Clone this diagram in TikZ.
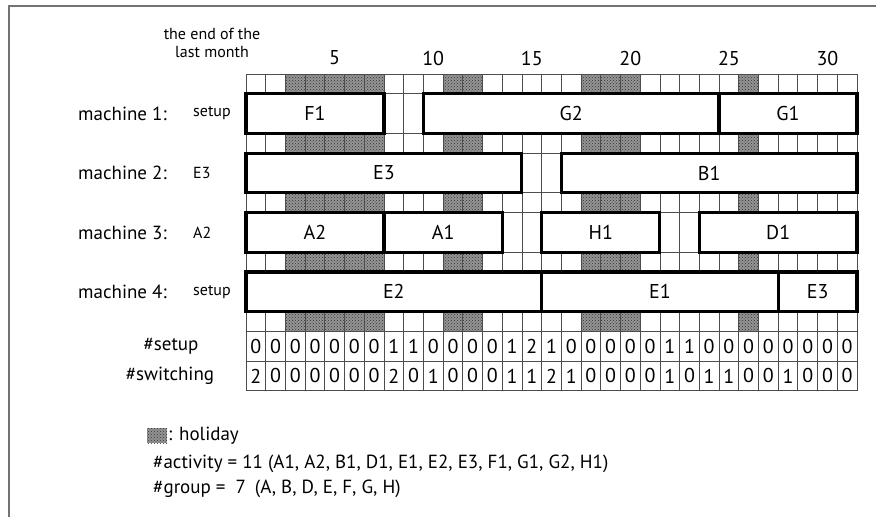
\documentclass[tikz,border=0pt]{standalone}
\usepackage{fontspec}
\setmainfont{PT Sans}
\usetikzlibrary{patterns}
\begin{document}
\begin{tikzpicture}[x=1pt,y=-1pt,
  gridline/.style={draw=black!70,line width=0.8pt},
  hol/.style={fill=black!42,postaction={pattern=crosshatch dots,pattern color=black!80}},
  bar/.style={draw=black,line width=3.1pt,fill=white,inner sep=0pt,font=\fontsize{20}{23}\selectfont},
  lbl/.style={inner sep=0pt,font=\fontsize{19}{22}\selectfont},
  daylbl/.style={inner sep=0pt,font=\fontsize{20}{23}\selectfont},
  smalllbl/.style={inner sep=0pt,font=\fontsize{16}{19}\selectfont},
  numcell/.style={inner sep=0pt,font=\fontsize{20}{23}\selectfont},
  legend/.style={inner sep=0pt,anchor=west,font=\fontsize{19}{22}\selectfont}]
\useasboundingbox (0,0) rectangle (876,517);
\def\xo{246}\def\yo{74}\def\cellw{19.71}\def\cellh{19.8}
% frame
\draw[draw=black!55,line width=2pt] (8.5,517) -- (8.5,5.5) -- (876,5.5);
% holidays
\foreach \c in {2,3,4,5,6,10,11,17,18,19,25}{
  \foreach \r in {0,3,6,9,12}{
    \path[hol] ({\xo+\c*\cellw},{\yo+\r*\cellh}) rectangle ({\xo+(\c+1)*\cellw},{\yo+(\r+1)*\cellh});
  }}
% grid
\foreach \r in {0,1,3,4,6,7,9,10,12,13,14.5,16}
  \draw[gridline] (\xo,{\yo+\r*\cellh}) -- ({\xo+31*\cellw},{\yo+\r*\cellh});
\foreach \c in {0,...,31}
  \draw[gridline] ({\xo+\c*\cellw},\yo) -- ({\xo+\c*\cellw},{\yo+16*\cellh});
% bars
\newcommand\mybar[5]{\node[bar,minimum width={((#4-#3)*\cellw)*1pt},minimum height={(2*\cellh)*1pt}] (#1) at ({\xo+(#3+#4)/2*\cellw},{\yo+(#2+1)*\cellh}) {#5};}
\mybar{mAF}{1}{0}{7}{F1}
\mybar{mAGb}{1}{9}{24}{G2}
\mybar{mAGa}{1}{24}{31}{G1}
\mybar{mBE}{4}{0}{14}{E3}
\mybar{mBB}{4}{16}{31}{B1}
\mybar{mCAb}{7}{0}{7}{A2}
\mybar{mCAa}{7}{7}{13}{A1}
\mybar{mCH}{7}{15}{21}{H1}
\mybar{mCD}{7}{23}{31}{D1}
\mybar{mDEb}{10}{0}{15}{E2}
\mybar{mDEa}{10}{15}{27}{E1}
\mybar{mDEc}{10}{27}{31}{E3}
% day labels
\foreach \d in {5,10,...,30}
  \node[daylbl] (day\d) at ({\xo+(\d-0.5)*\cellw},58) {\d};
\node[smalllbl,align=center] (eom) at (212,43) {the end of the\\[-1pt]last month};
% machine labels
\foreach \k/\ini in {1/setup,2/E3,3/A2,4/setup}{
  \node[lbl,anchor=west] (mach\k) at (78,{\yo+(3*\k-1)*\cellh}) {machine \k:};
  \node[smalllbl,anchor=west] (init\k) at (193,{\yo+(3*\k-1)*\cellh}) {\ini};
}
% counts
\node[lbl] (setuplbl) at (171,{\yo+13.75*\cellh}) {\#setup};
\node[lbl] (switchlbl) at (170,{\yo+15.25*\cellh}) {\#switching};
\foreach \val [count=\i from 0] in {0,0,0,0,0,0,0,1,1,0,0,0,0,1,2,1,0,0,0,0,0,1,1,0,0,0,0,0,0,0,0}
  \node[numcell] (su\i) at ({\xo+(\i+0.5)*\cellw},{\yo+13.75*\cellh}) {\val};
\foreach \val [count=\i from 0] in {2,0,0,0,0,0,0,2,0,1,0,0,0,1,1,2,1,0,0,0,0,1,0,1,1,0,0,1,0,0,0}
  \node[numcell] (sw\i) at ({\xo+(\i+0.5)*\cellw},{\yo+15.25*\cellh}) {\val};
% legend
\path[hol] (147,428) rectangle (167,443);
\node[legend] (hollbl) at (168,436) {: holiday};
\node[legend] (actlbl) at (153,464) {\#activity = 11 (A1, A2, B1, D1, E1, E2, E3, F1, G1, G2, H1)};
\node[legend] (grplbl) at (153,489) {\#group =\hspace{10pt}7\hspace{9pt}(A, B, D, E, F, G, H)};
\end{tikzpicture}
\end{document}
